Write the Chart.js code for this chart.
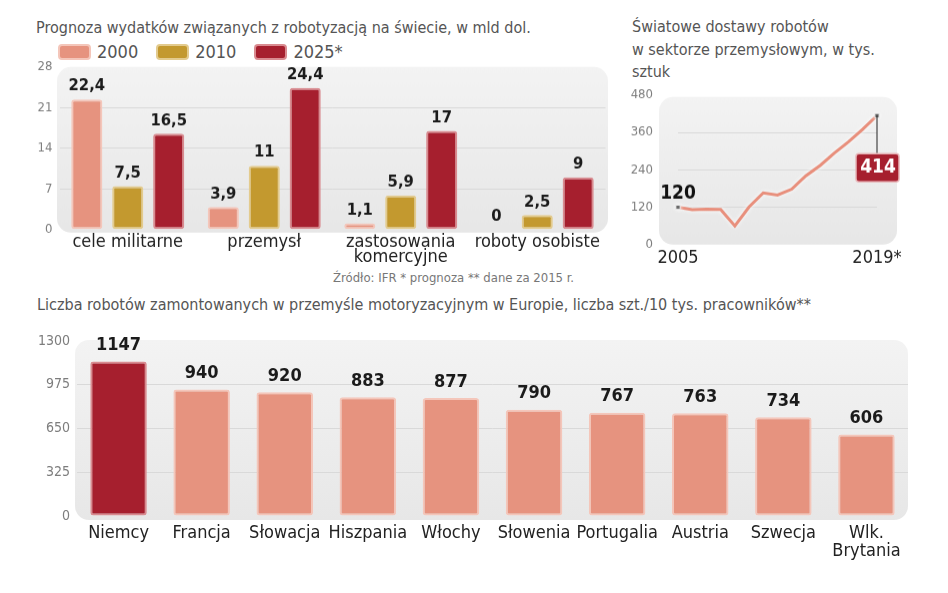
<!DOCTYPE html>
<html>
<head>
<meta charset="utf-8">
<script src="https://cdn.jsdelivr.net/npm/chart.js@4/dist/chart.umd.min.js"></script>
<style>
  body { margin: 0; width: 948px; height: 593px; background: #fff; position: relative; overflow: hidden;
         font-family: 'DejaVu Sans Condensed', 'Liberation Sans Narrow', sans-serif; }
  .box { position: absolute; }
  .title { position: absolute; color: #555; font-size: 16px; line-height: 22.5px; white-space: nowrap; }
  .legend { position: absolute; left: 58px; top: 41px; height: 18px; font-size: 18px; color: #555; white-space: nowrap; }
  .legend span.sw { display: inline-block; width: 33px; height: 16px; border-radius: 4px; vertical-align: -2px; margin-right: 6px; box-sizing: border-box; }
  .legend span.it { margin-right: 18px; }
  .src { position: absolute; left: 333px; top: 270px; font-size: 13px; color: #777; white-space: nowrap; }
</style>
</head>
<body>
<div class="title" style="left:36px;top:17px">Prognoza wydatków związanych z robotyzacją na świecie, w mld dol.</div>
<div class="legend" id="legend"></div>
<div class="src">Źródło: IFR * prognoza ** dane za 2015 r.</div>
<div class="title" style="left:632px;top:16px">Światowe dostawy robotów<br>w sektorze przemysłowym, w tys.<br>sztuk</div>
<div class="title" style="left:37px;top:294px">Liczba robotów zamontowanych w przemyśle motoryzacyjnym w Europie, liczba szt./10 tys. pracowników**</div>

<div class="box" style="left:0;top:52.2px;width:620px;height:217.8px"><canvas id="spend"></canvas></div>
<div class="box" style="left:600px;top:62.2px;width:348px;height:217.8px"><canvas id="deliv"></canvas></div>
<div class="box" style="left:0;top:325px;width:948px;height:268px"><canvas id="auto"></canvas></div>

<script>
// spending forecast, bn USD
var spendCats = ["cele militarne", "przemysł", ["zastosowania", "komercyjne"], "roboty osobiste"];
var spendYears = ["2000", "2010", "2025*"];
var spend2000 = [22.4, 3.9, 1.1, 0];
var spend2010 = [7.5, 11, 5.9, 2.5];
var spend2025 = [16.5, 24.4, 17, 9];
var spendTicks = [0, 7, 14, 21, 28];

// world deliveries of industrial robots, thousands
var delivYears = ["2005", "2006", "2007", "2008", "2009", "2010", "2011", "2012", "2013", "2014", "2015", "2016", "2017", "2018", "2019*"];
var delivValues = [120, 112, 114, 113, 60, 121, 166, 159, 178, 221, 254, 294, 330, 370, 414];
var delivTicks = [0, 120, 240, 360, 480];

// robots per 10k workers in automotive industry
var countries = ["Niemcy", "Francja", "Słowacja", "Hiszpania", "Włochy", "Słowenia", "Portugalia", "Austria", "Szwecja", ["Wlk.", "Brytania"]];
var density = [1147, 940, 920, 883, 877, 790, 767, 763, 734, 606];
var densityTicks = [0, 325, 650, 975, 1300];

var FONT = "'DejaVu Sans Condensed', 'Liberation Sans Narrow', sans-serif";
var SALMON = "#e6937f", GOLD = "#c3992f", RED = "#a61f2e";
var LIGHT = { salmon: "#f4c6ba", gold: "#e3cb8e", red: "#d98b90" };

// rounded grey panel behind the plot area
var plotBg = {
  id: "plotBg",
  beforeDraw: function (chart, args, o) {
    var a = chart.chartArea, c = chart.ctx;
    var x = a.left - o.l, y = a.top - o.t;
    var w = a.right - a.left + o.l + o.r, h = a.bottom - a.top + o.t + o.b;
    var g = c.createLinearGradient(0, y, 0, y + h);
    g.addColorStop(0, "#f3f3f3");
    g.addColorStop(1, "#e7e7e7");
    c.save();
    c.fillStyle = g;
    c.beginPath();
    c.roundRect(x, y, w, h, 14);
    c.fill();
    c.restore();
  }
};

// numbers above bars
var valueLabels = {
  id: "valueLabels",
  afterDatasetsDraw: function (chart, args, o) {
    var c = chart.ctx;
    c.save();
    c.font = "bold " + o.size + "px " + FONT;
    c.fillStyle = "#1b1b1b";
    c.textAlign = "center";
    c.textBaseline = "middle";
    chart.data.datasets.forEach(function (ds, i) {
      chart.getDatasetMeta(i).data.forEach(function (bar, j) {
        c.fillText(String(ds.data[j]).replace(".", ","), bar.x, bar.y - o.gap);
      });
    });
    c.restore();
  }
};

// soft light halo under the line
var lineGlow = {
  id: "lineGlow",
  beforeDatasetDraw: function (chart) {
    var c = chart.ctx;
    c.save();
    c.shadowColor = "rgba(255,255,255,0.95)";
    c.shadowBlur = 4;
  },
  afterDatasetDraw: function (chart) {
    chart.ctx.restore();
  }
};

// first value and last value callouts on the line
var lineNotes = {
  id: "lineNotes",
  afterDatasetsDraw: function (chart) {
    var c = chart.ctx;
    var pts = chart.getDatasetMeta(0).data;
    var vals = chart.data.datasets[0].data;
    var p0 = pts[0], pl = pts[pts.length - 1];
    c.save();
    c.font = "bold 19px " + FONT;
    c.textAlign = "center";
    c.textBaseline = "middle";
    c.fillStyle = "#111";
    c.fillText(String(vals[0]), p0.x, p0.y - 13);
    c.strokeStyle = "#222";
    c.lineWidth = 1;
    c.beginPath();
    c.moveTo(pl.x, pl.y);
    c.lineTo(pl.x, pl.y + 38);
    c.stroke();
    c.fillStyle = RED;
    c.strokeStyle = "#e8b5b8";
    c.lineWidth = 1.5;
    c.beginPath();
    c.roundRect(pl.x - 21, pl.y + 38, 43, 28, 3);
    c.fill();
    c.stroke();
    c.fillStyle = "#fff";
    c.fillText(String(vals[vals.length - 1]), pl.x + 1, pl.y + 52);
    c.restore();
  }
};

function innerGrid(ctx) {
  var n = ctx.scale.ticks.length;
  return ctx.index > 0 && ctx.index < n - 1 ? "#d9d9d9" : "rgba(0,0,0,0)";
}

function yAxis(ticks, width, pad, size) {
  return {
    min: ticks[0],
    max: ticks[ticks.length - 1],
    afterBuildTicks: function (s) { s.ticks = ticks.map(function (v) { return { value: v }; }); },
    afterFit: function (s) { s.width = width; },
    border: { display: false },
    grid: { color: innerGrid, drawTicks: false, lineWidth: 1 },
    ticks: { padding: pad, color: "#7d7d7d", font: { family: FONT, size: size }, callback: function (v) { return String(v); } }
  };
}

function xAxis(height, pad, lh) {
  return {
    afterFit: function (s) { s.height = height; },
    border: { display: false },
    grid: { display: false, drawTicks: false },
    ticks: { padding: pad, color: "#222", maxRotation: 0, autoSkip: false, font: { family: FONT, size: 18, lineHeight: lh } }
  };
}

window.addEventListener("load", function () {
  Chart.defaults.font.family = FONT;
  Chart.defaults.animation = false;

  // html legend for the top left chart
  var legend = document.getElementById("legend");
  var legendCols = [[SALMON, LIGHT.salmon], [GOLD, LIGHT.gold], [RED, LIGHT.red]];
  spendYears.forEach(function (y, i) {
    var sw = document.createElement("span");
    sw.className = "sw";
    sw.style.background = legendCols[i][0];
    sw.style.border = "2px solid " + legendCols[i][1];
    var t = document.createElement("span");
    t.className = "it";
    t.textContent = y;
    legend.append(sw, t);
  });

  new Chart(document.getElementById("spend"), {
    type: "bar",
    data: {
      labels: spendCats,
      datasets: [
        { label: spendYears[0], data: spend2000, backgroundColor: SALMON, borderColor: LIGHT.salmon },
        { label: spendYears[1], data: spend2010, backgroundColor: GOLD, borderColor: LIGHT.gold },
        { label: spendYears[2], data: spend2025, backgroundColor: RED, borderColor: LIGHT.red }
      ]
    },
    options: {
      responsive: true,
      maintainAspectRatio: false,
      layout: { padding: { top: 0, right: 14.5, left: 0, bottom: 0 } },
      datasets: { bar: { borderWidth: 2, borderRadius: 3, borderSkipped: false, categoryPercentage: 0.9, barPercentage: 0.76 } },
      scales: {
        x: xAxis(41, 5, 0.85),
        y: yAxis(spendTicks, 59.5, 7, 13)
      },
      plugins: {
        legend: { display: false },
        tooltip: { enabled: false },
        plotBg: { l: 2.5, t: 0, r: 2.5, b: 3 },
        valueLabels: { size: 16.5, gap: 13 }
      }
    },
    plugins: [plotBg, valueLabels]
  });

  new Chart(document.getElementById("deliv"), {
    type: "line",
    data: {
      labels: delivYears,
      datasets: [{
        data: delivValues,
        borderColor: "#e88f7c",
        borderWidth: 3,
        tension: 0,
        pointStyle: "rect",
        pointRadius: function (ctx) { return ctx.dataIndex === 0 || ctx.dataIndex === delivValues.length - 1 ? 3 : 0; },
        pointBackgroundColor: "#333",
        pointBorderColor: "#eee",
        pointBorderWidth: 1
      }]
    },
    options: {
      responsive: true,
      maintainAspectRatio: false,
      layout: { padding: { top: 0, right: 71, left: 0, bottom: 0 } },
      scales: {
        x: (function () {
          var ax = xAxis(36, 5, 1);
          ax.offset = false;
          ax.ticks.callback = function (v, i) { return i === 0 || i === delivYears.length - 1 ? delivYears[i] : ""; };
          return ax;
        })(),
        y: yAxis(delivTicks, 78, 25, 13)
      },
      plugins: {
        legend: { display: false },
        tooltip: { enabled: false },
        plotBg: { l: 19, t: -2, r: 20, b: 0 }
      }
    },
    plugins: [plotBg, lineGlow, lineNotes]
  });

  new Chart(document.getElementById("auto"), {
    type: "bar",
    data: {
      labels: countries,
      datasets: [{
        data: density,
        backgroundColor: function (ctx) { return ctx.dataIndex === 0 ? RED : SALMON; },
        borderColor: function (ctx) { return ctx.dataIndex === 0 ? LIGHT.red : LIGHT.salmon; }
      }]
    },
    options: {
      responsive: true,
      maintainAspectRatio: false,
      layout: { padding: { top: 16, right: 40, left: 0, bottom: 0 } },
      datasets: { bar: { borderWidth: 2, borderRadius: 3, borderSkipped: false, categoryPercentage: 1, barPercentage: 0.68 } },
      scales: {
        x: xAxis(77, 8, 1),
        y: yAxis(densityTicks, 77, 7, 14)
      },
      plugins: {
        legend: { display: false },
        tooltip: { enabled: false },
        plotBg: { l: 2, t: 1, r: 0, b: 4 },
        valueLabels: { size: 18, gap: 16 }
      }
    },
    plugins: [plotBg, valueLabels]
  });
});
</script>
</body>
</html>
